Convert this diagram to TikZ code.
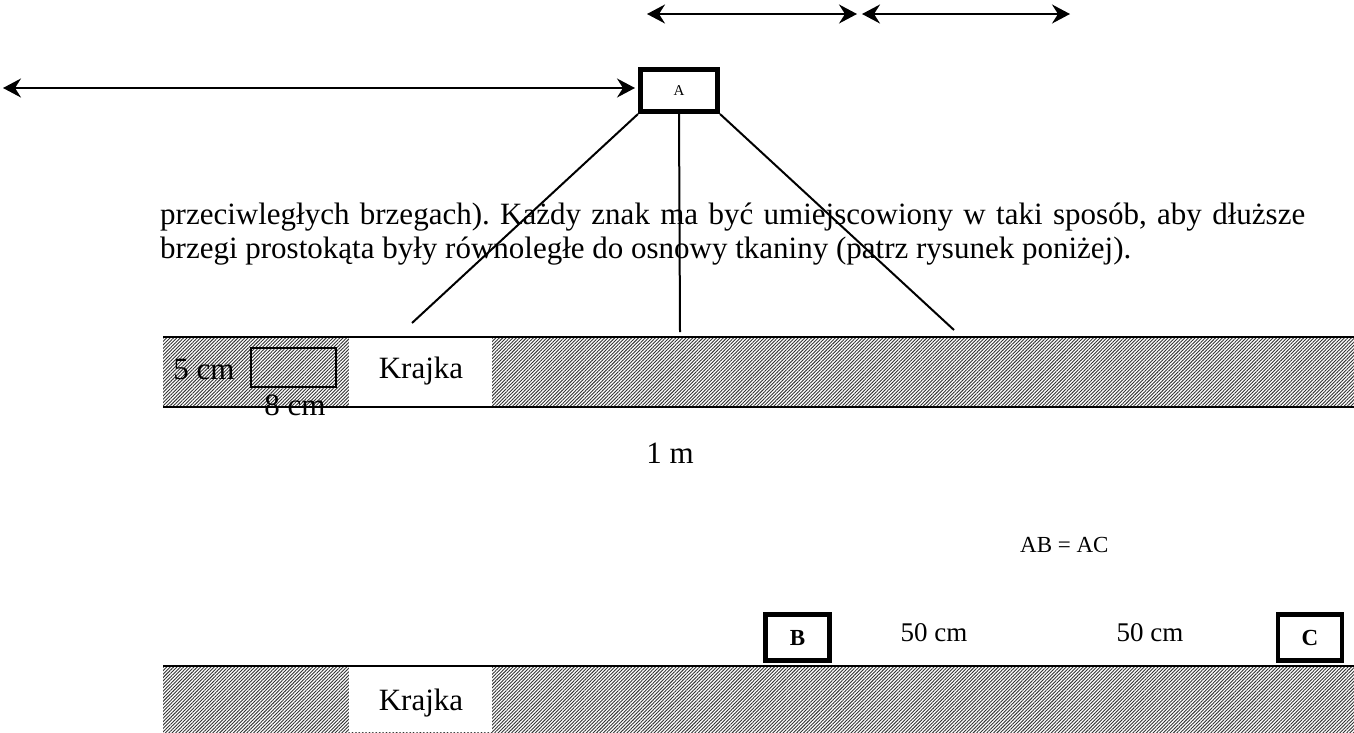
\documentclass[tikz,border=0pt]{standalone}
\usepackage{fontspec}
\setmainfont{Liberation Serif}
\usetikzlibrary{positioning}
\usetikzlibrary{arrows.meta}
\usetikzlibrary{patterns.meta}
\frenchspacing
\tikzset{
    tag/.style={
        draw,
        line width=4.5pt,
        minimum width=64pt,
        minimum height=46pt,
        inner sep=0pt,
        font=\fontsize{23}{23}\selectfont\bfseries},
    label/.style={
        inner sep=0pt,
        font=\fontsize{31}{34}\selectfont},
    stripe/.style={
        pattern={Lines[angle=45,distance=2.4pt,line width=0.9pt]},
        pattern color=black!80},
    edge/.style={
        line width=2.6pt},
    twoway/.style={
        {Stealth[length=18pt,width=19pt,inset=6pt]}-{Stealth[length=18pt,width=19pt,inset=6pt]},
        line width=2pt}}

\begin{document}
\begin{tikzpicture}[x=1pt,y=-1pt]
        \useasboundingbox (0,0) rectangle (1354,732);

        % upper cloth
        \fill[stripe] (163,337) rectangle (1354,407);
        \fill[white] (349,338) rectangle (492,406);
        \draw[edge] (163,337) -- (1354,337);
        \draw[edge] (163,407) -- (1354,407);
        \draw[line width=2pt] (251,348) rectangle (336,387);
        \node[label] (cm5) at (204,369) {5 cm};
        \node[label] (cm8) at (295,405) {8 cm};
        \node[label] (kr1) at (421,371) {Krajka};
        \node[label] (m1) at (670,453) {1 m};

        % sign A
        \node[tag,minimum width=77pt,minimum height=42pt,line width=5pt,
            font=\fontsize{15}{15}\selectfont] (A) at (679,90.5) {A};
        \coordinate (la) at (412,323);
        \coordinate (ma) at (680,332);
        \coordinate (ra) at (954,330);
        \draw[line width=2pt] (A.south west) -- (la);
        \draw[line width=2pt] (A.south) -- (ma);
        \draw[line width=2pt] (A.south east) -- (ra);

        % arrows
        \coordinate (far) at (3,88);
        \draw[twoway,shorten >=3pt] (far) -- (far -| A.west);
        \coordinate (t1) at (647,14);
        \coordinate (t2) at (857,14);
        \coordinate (t3) at (862,14);
        \coordinate (t4) at (1070,14);
        \draw[twoway] (t1) -- (t2);
        \draw[twoway] (t3) -- (t4);

        % text
        \node[label,anchor=base west] (txt1) at (160,224)
            {\hbox to 1145pt{przeciwległych brzegach). Każdy znak ma być umiejscowiony w taki sposób, aby dłuższe}};
        \node[label,anchor=base west] (txt2) at (160,258)
            {brzegi prostokąta były równoległe do osnowy tkaniny (patrz rysunek poniżej).};

        \node[label,anchor=west,font=\fontsize{23}{23}\selectfont] (eq) at (1020,545) {AB = AC};

        % lower cloth
        \fill[stripe] (163,666) rectangle (1354,732);
        \fill[white] (349,667) rectangle (492,732);
        \draw[edge] (163,666) -- (1354,666);
        \node[label] (kr2) at (421,703) {Krajka};
        \node[tag] (B) at (797.5,637.5) {B};
        \node[tag] (C) at (1310,637.5) {C};
        \node[label,font=\fontsize{27}{27}\selectfont] (d1) at (934,633) {50 cm};
        \node[label,font=\fontsize{27}{27}\selectfont] (d2) at (1150,633) {50 cm};
\end{tikzpicture}
\end{document}
